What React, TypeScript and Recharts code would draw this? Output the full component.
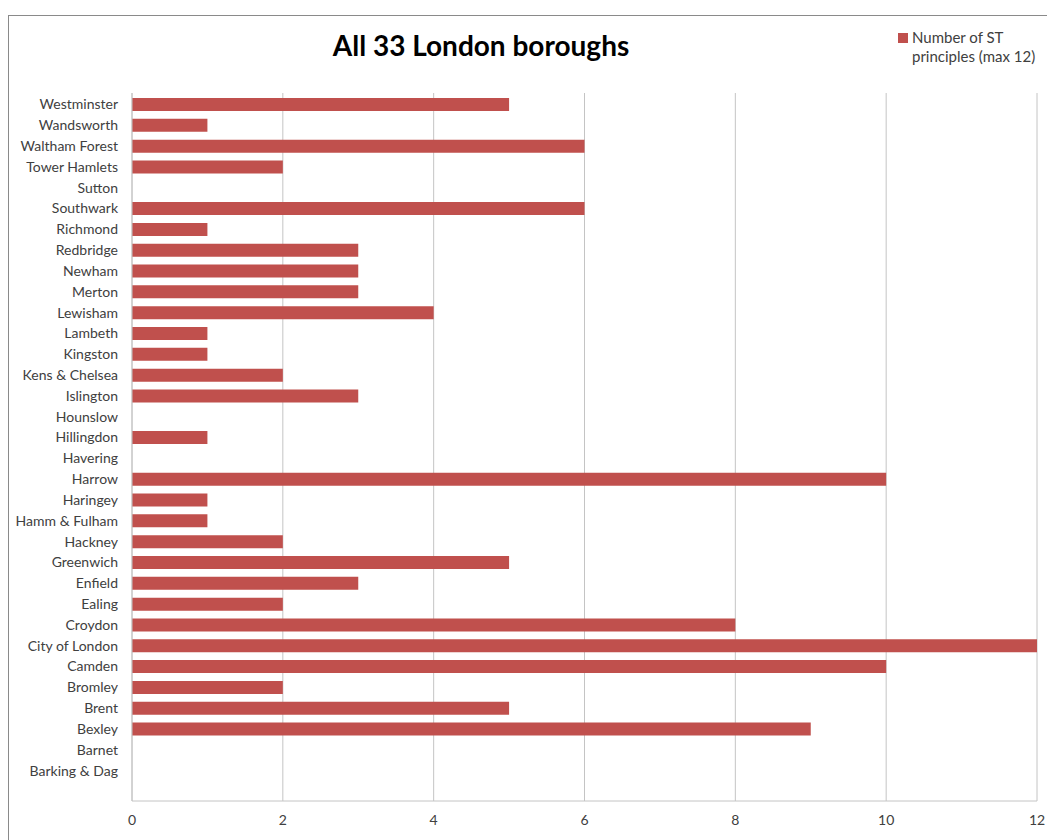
import React from 'react';
import { BarChart, Bar, XAxis, YAxis, CartesianGrid } from 'recharts';

const boroughs = [
  'Westminster', 'Wandsworth', 'Waltham Forest', 'Tower Hamlets', 'Sutton', 'Southwark',
  'Richmond', 'Redbridge', 'Newham', 'Merton', 'Lewisham', 'Lambeth', 'Kingston ',
  'Kens & Chelsea', 'Islington', 'Hounslow', 'Hillingdon', 'Havering', 'Harrow', 'Haringey',
  'Hamm & Fulham', 'Hackney', 'Greenwich', 'Enfield', 'Ealing', 'Croydon', 'City of London',
  'Camden', 'Bromley', 'Brent', 'Bexley', 'Barnet', 'Barking & Dag',
];

const principles = [
  5, 1, 6, 2, 0, 6,
  1, 3, 3, 3, 4, 1, 1,
  2, 3, 0, 1, 0, 10, 1,
  1, 2, 5, 3, 2, 8, 12,
  10, 2, 5, 9, 0, 0,
];

const xTicks = [0, 2, 4, 6, 8, 10, 12];

const seriesName = 'Number of ST principles (max 12)';
const title = 'All 33 London boroughs';

const data = boroughs.map((name, i) => ({ name, value: principles[i] }));

const FONT = 'Lato, "Open Sans", sans-serif';
const BAR_COLOR = '#C0504D';

export default function App() {
  return (
    <div style={{ paddingTop: 7 }}>
      <div
        style={{
          position: 'relative',
          width: 1047,
          height: 832,
          borderTop: '1px solid #8a8a8a',
          borderLeft: '1px solid #8a8a8a',
          boxSizing: 'border-box',
          fontFamily: FONT,
          background: '#fff',
        }}
      >
        <div
          style={{
            position: 'absolute',
            left: 472,
            top: 13,
            transform: 'translateX(-50%)',
            fontSize: 28,
            fontWeight: 700,
            whiteSpace: 'nowrap',
            color: '#000',
            lineHeight: '32px',
          }}
        >
          {title}
        </div>
        <div
          style={{
            position: 'absolute',
            left: 889,
            top: 12,
            display: 'flex',
            alignItems: 'flex-start',
            fontSize: 15,
            color: '#404040',
            lineHeight: '19px',
          }}
        >
          <div style={{ width: 10, height: 10, background: BAR_COLOR, marginTop: 5, marginRight: 4 }} />
          <div style={{ width: 140 }}>{seriesName}</div>
        </div>
        <div style={{ position: 'absolute', left: 0, top: 0 }}>
          <BarChart
            width={1046}
            height={824}
            data={data}
            layout="vertical"
            margin={{ top: 77, right: 18, left: 0, bottom: 9 }}
          >
            <CartesianGrid horizontal={false} vertical={true} stroke="#c4c4c4" />
            <XAxis
              type="number"
              domain={[0, 12]}
              ticks={xTicks}
              interval={0}
              height={30}
              tickLine={false}
              axisLine={{ stroke: '#c4c4c4' }}
              tick={{ fill: '#404040', fontSize: 14, fontFamily: FONT }}
              tickSize={0}
              tickMargin={14}
            />
            <YAxis
              type="category"
              dataKey="name"
              width={123}
              interval={0}
              padding={{ top: 1, bottom: 20 }}
              tickLine={false}
              axisLine={{ stroke: '#c4c4c4' }}
              tick={{ fill: '#404040', fontSize: 14, fontFamily: FONT }}
              tickSize={0}
              tickMargin={14}
            />
            <Bar
              dataKey="value"
              name={seriesName}
              fill={BAR_COLOR}
              barSize={13}
              isAnimationActive={false}
            />
          </BarChart>
        </div>
      </div>
    </div>
  );
}
